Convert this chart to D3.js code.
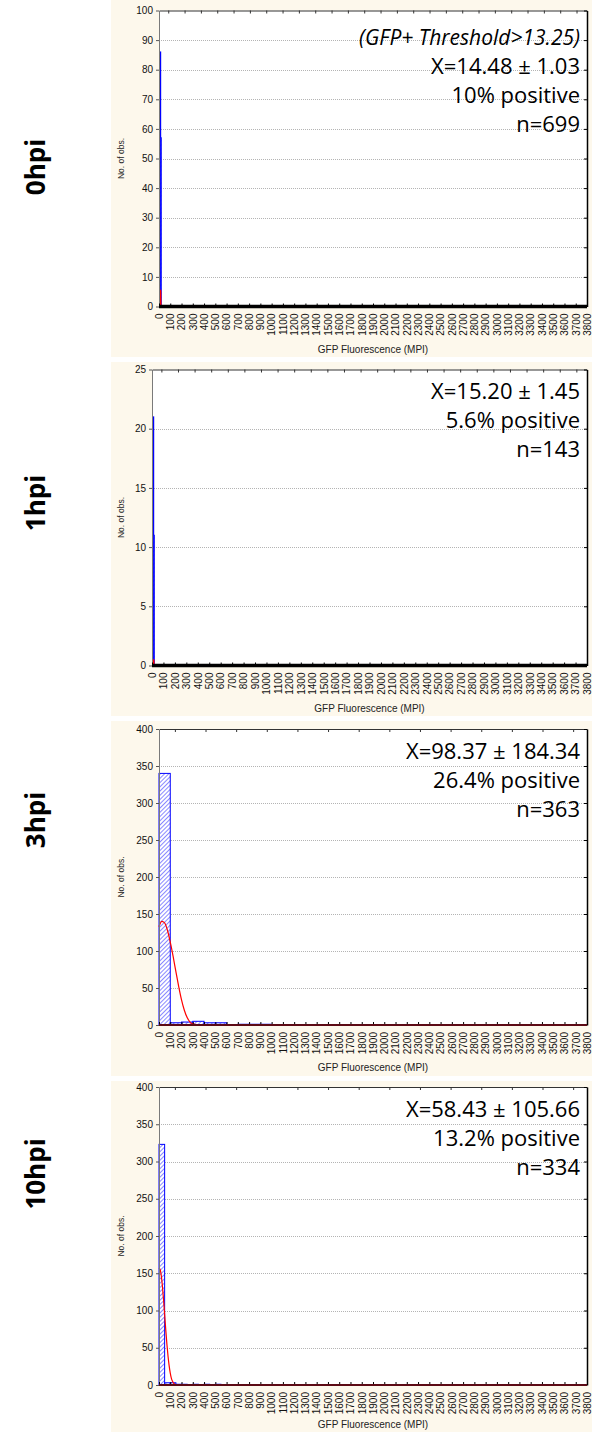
<!DOCTYPE html>
<html>
<head>
<meta charset="utf-8">
<script src="https://cdn.jsdelivr.net/npm/d3@7"></script>
<style>
  html, body { margin: 0; padding: 0; background: #fff; }
  svg { display: block; }
</style>
</head>
<body>
<script>
// ---- data ---------------------------------------------------------------
// time points, one histogram each
const panelLabels = ["0hpi", "1hpi", "3hpi", "10hpi"];

// y-axis ticks
const yTicks0 = [0, 10, 20, 30, 40, 50, 60, 70, 80, 90, 100];
const yTicks1 = [0, 5, 10, 15, 20, 25];
const yTicks2 = [0, 50, 100, 150, 200, 250, 300, 350, 400];
const yTicks3 = [0, 50, 100, 150, 200, 250, 300, 350, 400];

// x-axis tick labels (GFP fluorescence, MPI)
const xTicks = d3.range(0, 3801, 100);

// histogram bins (lower edge, upper edge, count)
const binLo0 = [10, 15];          const binHi0 = [15, 20];          const counts0 = [86, 57];
const binLo1 = [10, 15];          const binHi1 = [15, 20];          const counts1 = [21, 11];
const binLo2 = [0, 100, 200, 300, 400, 500, 600, 700, 800, 900];
const binHi2 = [100, 200, 300, 400, 500, 600, 700, 800, 900, 1000];
const counts2 = [340, 3, 4, 5, 3, 3, 0, 1, 1, 1];
const binLo3 = [0, 50, 100, 150, 200, 300, 400, 500];
const binHi3 = [50, 100, 150, 200, 250, 350, 450, 550];
const counts3 = [323, 3, 3, 1, 1, 1, 1, 1];

// fitted curves (x in MPI, expected count)
const fitX0 = [0, 11, 12, 13, 14, 14.5, 15, 16, 17, 18, 3800];
const fitY0 = [0, 0.1, 0.8, 3.0, 5.2, 5.5, 5.2, 3.0, 0.8, 0.1, 0];
const fitX1 = [0, 12, 13, 14, 15, 15.5, 16, 17, 18, 19, 3800];
const fitY1 = [0, 0.05, 0.2, 0.4, 0.5, 0.5, 0.45, 0.3, 0.1, 0.02, 0];
const fitX2 = [0, 25, 50, 75, 100, 125, 150, 175, 200, 225, 250, 275, 300, 350, 400, 3800];
const fitY2 = [133, 140, 138, 128, 112, 93, 72, 52, 34, 20, 10, 4, 1.5, 0.3, 0, 0];
const fitX3 = [0, 10, 20, 30, 40, 50, 60, 70, 80, 90, 100, 110, 120, 130, 150, 200, 3800];
const fitY3 = [157, 155, 147, 133, 115, 95, 74, 55, 39, 26, 16, 9, 5, 2.5, 0.5, 0, 0];

// summary text per panel
const notes0 = ["(GFP+ Threshold>13.25)", "X=14.48 ± 1.03", "10% positive", "n=699"];
const notes1 = ["X=15.20 ± 1.45", "5.6% positive", "n=143"];
const notes2 = ["X=98.37 ± 184.34", "26.4% positive", "n=363"];
const notes3 = ["X=58.43 ± 105.66", "13.2% positive", "n=334"];

const xLabel = "GFP Fluorescence (MPI)";
const yLabel = "No. of obs.";

// ---- assemble per-panel records -------------------------------------------
const yTicksAll = [yTicks0, yTicks1, yTicks2, yTicks3];
const binsAll = [[binLo0, binHi0, counts0], [binLo1, binHi1, counts1],
                 [binLo2, binHi2, counts2], [binLo3, binHi3, counts3]];
const fitsAll = [[fitX0, fitY0], [fitX1, fitY1], [fitX2, fitY2], [fitX3, fitY3]];
const notesAll = [notes0, notes1, notes2, notes3];

// ---- layout ---------------------------------------------------------------
const W = 592, H = 1432;
const cream = "#fdf8ec";
const frames = [
  { block: [0, 357],     top: 10.5,  bottom: 306.5,  left: 159, right: 587, noteTop: 34.5, italicFirst: true,
    labelY: 167,  topTick: [82, 145],  base: { w: 3.5, c: "#000" } },
  { block: [362, 716],   top: 369.5, bottom: 665.5,  left: 152, right: 587, noteTop: 29.5, italicFirst: false,
    labelY: 503,  topTick: [82, 145],  base: { w: 3.5, c: "#000" } },
  { block: [721, 1076],  top: 729,   bottom: 1025,   left: 159, right: 587, noteTop: 29.5, italicFirst: false,
    labelY: 820,  topTick: [141, 272], base: { w: 2, c: "#5c0a14" } },
  { block: [1081, 1432], top: 1087,  bottom: 1385,   left: 159, right: 587, noteTop: 29.5, italicFirst: false,
    labelY: 1174, topTick: [141, 272], base: { w: 2, c: "#5c0a14" } }
];
const lineGap = 29;

const svg = d3.select("body").append("svg")
  .attr("width", W).attr("height", H)
  .attr("viewBox", `0 0 ${W} ${H}`);

svg.append("rect").attr("width", W).attr("height", H).attr("fill", "#fff");

// hatch fill for the bars
const defs = svg.append("defs");
const pat = defs.append("pattern")
  .attr("id", "hatch")
  .attr("patternUnits", "userSpaceOnUse")
  .attr("width", 3).attr("height", 3)
  .attr("patternTransform", "rotate(45)");
pat.append("rect").attr("width", 3).attr("height", 3).attr("fill", "#ffffff");
pat.append("line").attr("x1", 0).attr("y1", 0).attr("x2", 0).attr("y2", 3)
  .attr("stroke", "#4848ff").attr("stroke-width", 1.3);

const tickFont = "'Liberation Sans', Arial, sans-serif";
const noteFont = "'Open Sans', sans-serif";

frames.forEach((f, i) => {
  const g = svg.append("g");
  const yt = yTicksAll[i];
  const yMax = yt[yt.length - 1];

  // cream panel background
  g.append("rect")
    .attr("x", 111).attr("y", f.block[0])
    .attr("width", W - 111).attr("height", f.block[1] - f.block[0])
    .attr("fill", cream);

  const x = d3.scaleLinear().domain([0, 3800]).range([f.left, f.right]);
  const y = d3.scaleLinear().domain([0, yMax]).range([f.bottom, f.top]);

  // plot area
  g.append("rect")
    .attr("x", f.left).attr("y", f.top)
    .attr("width", f.right - f.left).attr("height", f.bottom - f.top)
    .attr("fill", "#fff");

  // dotted horizontal gridlines
  g.append("g").selectAll("line")
    .data(yt.filter(t => t > 0 && t < yMax))
    .join("line")
    .attr("x1", f.left).attr("x2", f.right)
    .attr("y1", d => Math.round(y(d)) + 0.5).attr("y2", d => Math.round(y(d)) + 0.5)
    .attr("stroke", "#b4b4b4").attr("stroke-width", 1)
    .attr("stroke-dasharray", "1,1");

  // histogram bars
  const [lo, hi, cnt] = binsAll[i];
  const bars = lo.map((d, k) => ({ lo: d, hi: hi[k], n: cnt[k] })).filter(b => b.n > 0);
  g.append("g").selectAll("rect")
    .data(bars)
    .join("rect")
    .attr("x", d => x(d.lo))
    .attr("y", d => y(d.n))
    .attr("width", d => Math.max(0.01, x(d.hi) - x(d.lo)))
    .attr("height", d => y(0) - y(d.n))
    .attr("fill", "url(#hatch)")
    .attr("stroke", "#0000ff")
    .attr("stroke-width", 1);

  // fitted curve
  const [fx, fy] = fitsAll[i];
  const pts = fx.map((d, k) => [d, fy[k]]);
  g.append("path")
    .datum(pts)
    .attr("fill", "none")
    .attr("stroke", "#ff0000")
    .attr("stroke-width", 1.2)
    .attr("d", d3.line().x(d => x(d[0])).y(d => y(d[1])).curve(d3.curveMonotoneX));

  // top axis with inward ticks
  const topVals = d3.range(f.topTick[0], 3800, f.topTick[1]);
  const topAx = g.append("g").attr("transform", `translate(0,${f.top})`)
    .call(d3.axisTop(x).tickValues(topVals).tickSize(-3).tickSizeOuter(0).tickFormat(""));
  topAx.select(".domain").attr("stroke", "#333");
  topAx.selectAll(".tick line").attr("stroke", "#333");

  // right border with inward ticks
  const rightAx = g.append("g").attr("transform", `translate(${f.right},0)`)
    .call(d3.axisRight(y).tickValues(yt).tickSize(-3).tickSizeOuter(0).tickFormat(""));
  rightAx.select(".domain").attr("stroke", "#000").attr("stroke-width", 1.5);
  rightAx.selectAll(".tick line").attr("stroke", "#000");

  // left axis
  const leftAx = g.append("g").attr("transform", `translate(${f.left},0)`)
    .call(d3.axisLeft(y).tickValues(yt).tickSize(3).tickSizeOuter(0).tickPadding(3));
  leftAx.select(".domain").attr("stroke", "#7a7a7a");
  leftAx.selectAll(".tick line").attr("stroke", "#555");
  leftAx.selectAll("text")
    .attr("font-family", tickFont).attr("font-size", 10).attr("fill", "#111");

  // bottom axis: inward ticks, vertical labels
  const botAx = g.append("g").attr("transform", `translate(0,${f.bottom})`)
    .call(d3.axisBottom(x).tickValues(xTicks).tickSize(-3).tickSizeOuter(0)
      .tickFormat(d3.format("d")));
  botAx.select(".domain").remove();
  botAx.selectAll(".tick line").attr("stroke", "#000");
  botAx.selectAll("text")
    .attr("font-family", tickFont).attr("font-size", 10).attr("fill", "#111")
    .attr("transform", "rotate(-90)")
    .attr("x", -7).attr("y", 0).attr("dy", "0.33em")
    .style("text-anchor", "end");

  // heavy baseline at zero
  g.append("line")
    .attr("x1", f.left).attr("x2", f.right)
    .attr("y1", y(0)).attr("y2", y(0))
    .attr("stroke", f.base.c).attr("stroke-width", f.base.w);

  // axis titles
  g.append("text")
    .attr("x", (f.left + f.right) / 2).attr("y", Math.min(f.bottom + 46, H - 4))
    .attr("text-anchor", "middle")
    .attr("font-family", tickFont).attr("font-size", 10).attr("fill", "#222")
    .text(xLabel);
  g.append("text")
    .attr("transform", `translate(124,${(f.top + f.bottom) / 2}) rotate(-90)`)
    .attr("text-anchor", "middle")
    .attr("font-family", tickFont).attr("font-size", 8.5).attr("fill", "#222")
    .text(yLabel);

  // summary text, right aligned
  g.append("g").selectAll("text")
    .data(notesAll[i])
    .join("text")
    .attr("x", 580)
    .attr("y", (d, k) => f.top + f.noteTop + k * lineGap)
    .attr("text-anchor", "end")
    .attr("font-family", noteFont).attr("fill", "#000")
    .attr("font-size", (d, k) => (k === 0 && f.italicFirst) ? 21 : 22)
    .attr("font-style", (d, k) => (k === 0 && f.italicFirst) ? "italic" : "normal")
    .text(d => d);

  // time-point label at the left
  svg.append("text")
    .attr("transform", `translate(45,${f.labelY}) rotate(-90)`)
    .attr("text-anchor", "middle")
    .attr("font-family", noteFont).attr("font-weight", 700).attr("font-size", 26)
    .attr("fill", "#000")
    .text(panelLabels[i]);
});
</script>
</body>
</html>
